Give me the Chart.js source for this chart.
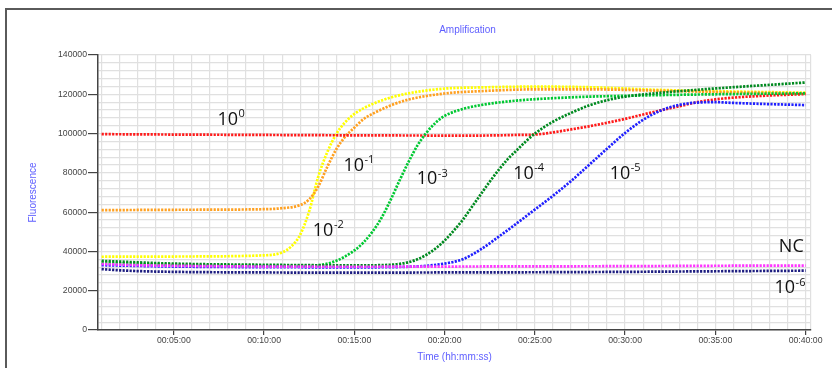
<!DOCTYPE html>
<html>
<head>
<meta charset="utf-8">
<script src="https://cdn.jsdelivr.net/npm/chart.js@4.4.1/dist/chart.umd.min.js"></script>
<style>
  html, body { margin: 0; padding: 0; background: #fff; }
  #wrap { position: relative; width: 832px; height: 368px; overflow: hidden; }
  #frame { position: absolute; left: 5px; top: 8px; width: 900px; height: 400px;
           border-left: 2px solid #5a5a5a; border-top: 2px solid #5a5a5a; pointer-events: none; }
</style>
</head>
<body>
<div id="wrap">
  <canvas id="ampChart" width="832" height="368"></canvas>
  <div id="frame"></div>
</div>
<script>
// time in minutes, fluorescence in raw units
const redTimes = [1, 5, 10, 15, 20, 22, 23, 24, 25, 26, 27, 28, 29, 30, 31, 32, 33, 34, 35, 36, 38, 40];
const redValues = [99700, 99500, 99300, 99100, 99000, 99000, 99100, 99300, 99500, 100600, 102100, 103700, 105500, 107500, 109700, 111900, 113900, 116000, 117400, 118300, 119400, 120100];

const orangeTimes = [1, 5, 10, 11, 12, 12.5, 13, 13.5, 14, 14.5, 15, 15.5, 16, 17, 18, 20, 22, 25, 28, 32, 36, 40];
const orangeValues = [61000, 61200, 61500, 62000, 63600, 66500, 73000, 83000, 92000, 98500, 103000, 107300, 110000, 114300, 117300, 120400, 121600, 122500, 122500, 121800, 121000, 120500];

const yellowTimes = [1, 5, 10, 11, 11.5, 12, 12.5, 13, 13.5, 14, 14.5, 15, 16, 17, 18, 20, 22, 25, 28, 32, 36, 40];
const yellowValues = [37300, 37400, 38000, 39500, 42500, 48500, 60500, 78000, 90500, 99800, 105800, 110000, 115000, 118300, 120500, 122900, 123500, 123900, 123600, 122200, 121400, 120800];

const green3Times = [1, 5, 10, 12, 13, 14, 15, 15.5, 16, 16.5, 17, 17.5, 18, 18.5, 19, 19.5, 20, 21, 22, 24, 26, 28, 30, 32, 35, 40];
const green3Values = [34300, 33200, 32700, 32600, 33000, 35200, 40500, 44500, 50000, 57000, 66000, 76000, 85500, 94000, 100500, 105500, 109000, 112500, 114500, 116800, 118000, 118800, 119200, 119600, 120000, 120500];

const green4Times = [1, 5, 10, 15, 17, 18, 18.5, 19, 19.5, 20, 20.5, 21, 21.5, 22, 22.5, 23, 23.5, 24, 24.5, 25, 26, 27, 28, 29, 30, 32, 34, 36, 38, 40];
const green4Values = [35200, 33800, 33200, 32900, 33200, 34500, 36000, 38300, 41500, 45500, 50500, 56000, 62500, 69000, 75500, 81500, 87000, 91500, 96000, 100000, 106000, 110500, 114300, 117000, 118800, 120800, 122300, 123600, 124800, 126000];

const blue5Times = [1, 5, 10, 15, 18, 19, 20, 21, 22, 23, 24, 25, 26, 27, 28, 29, 30, 31, 32, 33, 34, 35, 36, 38, 40];
const blue5Values = [33000, 32300, 32000, 31900, 32200, 32700, 33800, 36000, 41000, 47500, 54300, 61300, 68300, 75800, 84000, 92300, 100300, 107000, 111800, 114600, 115800, 116000, 115600, 115000, 114500];

const ncTimes = [1, 3, 5, 10, 15, 20, 25, 30, 35, 40];
const ncValues = [33600, 33000, 32700, 32300, 32200, 32300, 32400, 32500, 32700, 32800];

const navyTimes = [1, 2, 3, 5, 10, 15, 20, 25, 30, 35, 40];
const navyValues = [31000, 30400, 30000, 29600, 29300, 29200, 29300, 29400, 29600, 29900, 30200];

// curve labels: base text, superscript, anchor (time, value) of the text baseline start
const curveLabels = [
  { base: '10', exp: '0',  t: 7.42,  v: 104400 },
  { base: '10', exp: '-1', t: 14.4,  v: 81100 },
  { base: '10', exp: '-2', t: 12.7,  v: 47900 },
  { base: '10', exp: '-3', t: 18.46, v: 74300 },
  { base: '10', exp: '-4', t: 23.8,  v: 76900 },
  { base: '10', exp: '-5', t: 29.15, v: 76900 },
  { base: 'NC', exp: '',   t: 38.52, v: 39500 },
  { base: '10', exp: '-6', t: 38.28, v: 18700 }
];

const toPoints = (ts, vs) => ts.map((t, i) => ({ x: t, y: vs[i] }));

const makeSet = (label, ts, vs, color) => ({
  label,
  data: toPoints(ts, vs),
  borderColor: color,
  backgroundColor: color,
  borderWidth: 2.7,
  borderDash: [2.2, 1.3],
  borderCapStyle: 'butt',
  pointRadius: 0,
  fill: false,
  cubicInterpolationMode: 'monotone'
});

const isMajorX = v => Math.abs(v - Math.round(v)) < 1e-6 && Math.round(v) % 5 === 0;
const fmtTime = v => {
  const m = Math.round(v);
  return '00:' + String(m).padStart(2, '0') + ':00';
};

const labelPlugin = {
  id: 'curveLabels',
  afterDatasetsDraw(chart) {
    const { ctx, chartArea, scales: { x, y } } = chart;
    ctx.save();
    ctx.fillStyle = '#111';
    ctx.textAlign = 'left';
    ctx.textBaseline = 'alphabetic';
    curveLabels.forEach(l => {
      const px = x.getPixelForValue(l.t);
      const py = y.getPixelForValue(l.v);
      ctx.font = '18px "Open Sans"';
      ctx.fillText(l.base, px, py);
      if (l.exp) {
        const w = ctx.measureText(l.base).width;
        ctx.font = '11px "Open Sans"';
        ctx.fillText(l.exp, px + w + 0.5, py - 7.5);
      }
    });
    // chart title
    ctx.fillStyle = '#5f5fff';
    ctx.font = '10px "Liberation Sans"';
    ctx.textAlign = 'center';
    ctx.textBaseline = 'middle';
    ctx.fillText('Amplification', (chartArea.left + chartArea.right) / 2 + 13, 30);
    ctx.restore();
  }
};

const ctx = document.getElementById('ampChart').getContext('2d');
const chart = new Chart(ctx, {
  type: 'line',
  data: {
    datasets: [
      makeSet('NC', ncTimes, ncValues, '#ff33ff'),
      makeSet('10^-6', navyTimes, navyValues, '#1c1c80'),
      makeSet('10^-5', blue5Times, blue5Values, '#2020ff'),
      makeSet('10^-4', green4Times, green4Values, '#008a20'),
      makeSet('10^-3', green3Times, green3Values, '#00c832'),
      makeSet('10^0', redTimes, redValues, '#ff1a1a'),
      makeSet('10^-1', orangeTimes, orangeValues, '#ffa020'),
      makeSet('10^-2', yellowTimes, yellowValues, '#ffff00')
    ]
  },
  options: {
    responsive: false,
    animation: false,
    devicePixelRatio: 1,
    layout: { padding: { left: 24, right: 21, top: 55, bottom: 0 } },
    plugins: {
      legend: { display: false },
      tooltip: { enabled: false }
    },
    scales: {
      x: {
        type: 'linear',
        min: 0.8,
        max: 40.3,
        afterFit: s => { s.height = 38; },
        afterBuildTicks: s => {
          const t = [];
          for (let m = 1; m <= 40; m++) t.push({ value: m });
          t.push({ value: 40.3 });
          s.ticks = t;
        },
        border: { color: '#444', width: 1.5 },
        grid: {
          color: '#e0e0e0',
          lineWidth: 1.2,
          tickLength: 5,
          tickColor: c => (c.tick && isMajorX(c.tick.value)) ? '#444' : 'rgba(0,0,0,0)'
        },
        ticks: {
          autoSkip: false,
          maxRotation: 0,
          padding: 0,
          color: '#444',
          font: { family: 'Liberation Sans', size: 8.7 },
          callback: v => isMajorX(v) ? fmtTime(v) : ''
        },
        title: {
          display: true,
          text: 'Time (hh:mm:ss)',
          color: '#5f5fff',
          font: { family: 'Liberation Sans', size: 10 },
          padding: { top: 0, bottom: 5 }
        }
      },
      y: {
        min: 0,
        max: 140000,
        afterFit: s => { s.width = 74; },
        border: { color: '#444', width: 1.5 },
        grid: {
          color: '#e0e0e0',
          lineWidth: 1.2,
          tickLength: 10,
          tickColor: c => (c.tick && c.tick.value % 20000 === 0) ? '#444' : 'rgba(0,0,0,0)'
        },
        ticks: {
          stepSize: 4000,
          autoSkip: false,
          padding: 1,
          color: '#444',
          font: { family: 'Liberation Sans', size: 8.7 },
          callback: v => v % 20000 === 0 ? String(v) : ''
        },
        title: {
          display: true,
          text: 'Fluorescence',
          color: '#5f5fff',
          font: { family: 'Liberation Sans', size: 10 },
          padding: { top: 3, bottom: 0 }
        }
      }
    }
  },
  plugins: [labelPlugin]
});
</script>
</body>
</html>
